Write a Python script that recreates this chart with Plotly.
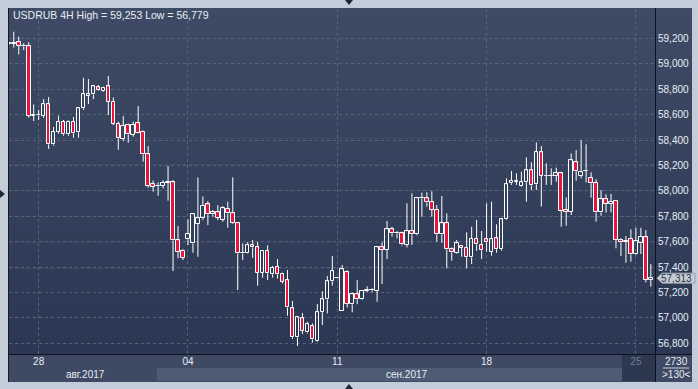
import plotly.graph_objects as go

# ---------------- data (USDRUB 4H, 130 bars) ----------------
open_ = [
    59156, 59160, 59170, 59141, 59138, 58592, 58595, 58592, 58681, 58366,
    58466, 58545, 58445, 58545, 58461, 58650, 58749, 58760, 58815, 58789,
    58823, 58702, 58529, 58408, 58518, 58440, 58532, 58461, 58287, 58051,
    58036, 58041, 58064, 58067, 57610, 57526, 57618, 57587, 57742, 57784,
    57894, 57815, 57831, 57773, 57860, 57823, 57745, 57508, 57514, 57571,
    57555, 57356, 57527, 57343, 57401, 57346, 57296, 57075, 56847, 56997,
    56886, 56936, 56821, 57049, 57146, 57288, 57314, 57057, 57359, 57107,
    57185, 57146, 57214, 57217, 57214, 57555, 57535, 57697, 57666, 57666,
    57577, 57682, 57658, 57941, 57941, 57910, 57850, 57658, 57745, 57540,
    57508, 57569, 57553, 57477, 57621, 57571, 57619, 57521, 57626, 57540,
    57776, 58060, 58075, 58041, 58067, 58162, 58052, 58304, 58117, 58120,
    58117, 58138, 57850, 57834, 58225, 58117, 58156, 58099, 58060, 57831,
    57934, 57897, 57920, 57613, 57600, 57621, 57500, 57587, 57634, 57298,
]
high = [
    59175, 59253, 59214, 59162, 59170, 58681, 58637, 58723, 58739, 58503,
    58592, 58558, 58555, 58581, 58655, 58891, 58881, 58833, 58833, 58820,
    58904, 58736, 58545, 58589, 58529, 58545, 58668, 58476, 58353, 58083,
    58067, 58085, 58196, 58085, 57723, 57542, 57776, 57820, 58106, 57957,
    57920, 57849, 57888, 57881, 57915, 58107, 57750, 57587, 57597, 57613,
    57597, 57535, 57571, 57409, 57464, 57356, 57377, 57133, 57010, 57038,
    56970, 56957, 57109, 57209, 57330, 57487, 57318, 57416, 57374, 57199,
    57298, 57220, 57249, 57233, 57561, 57595, 57763, 57718, 57684, 57679,
    57902, 57981, 57949, 57986, 57989, 57997, 57889, 57960, 57823, 57555,
    57613, 57574, 57674, 57718, 57771, 57684, 57902, 57915, 57737, 57787,
    58099, 58157, 58138, 58151, 58264, 58225, 58382, 58353, 58217, 58178,
    58183, 58151, 57949, 58296, 58322, 58401, 58367, 58146, 58091, 58007,
    57973, 57976, 57928, 57626, 57645, 57697, 57710, 57710, 57692, 57424,
]
low = [
    59150, 59128, 59075, 59109, 58576, 58550, 58558, 58576, 58330, 58356,
    58450, 58434, 58434, 58419, 58419, 58637, 58684, 58723, 58786, 58781,
    58597, 58518, 58324, 58392, 58379, 58427, 58453, 58230, 58025, 57994,
    57962, 58020, 57923, 57369, 57469, 57455, 57574, 57513, 57482, 57770,
    57731, 57797, 57770, 57757, 57710, 57739, 57220, 57456, 57508, 57474,
    57254, 57317, 57298, 57317, 57311, 57272, 57017, 56834, 56779, 56873,
    56878, 56805, 56813, 56944, 57036, 57254, 57312, 57055, 57083, 57044,
    57109, 57141, 57201, 57201, 57128, 57267, 57464, 57640, 57626, 57569,
    57555, 57574, 57650, 57797, 57876, 57797, 57600, 57592, 57390, 57451,
    57503, 57482, 57390, 57424, 57529, 57464, 57521, 57490, 57514, 57529,
    57770, 58047, 58047, 58033, 57915, 58007, 58007, 57876, 58047, 58047,
    58073, 57718, 57726, 57810, 58081, 58099, 58067, 57947, 57758, 57805,
    57829, 57831, 57548, 57487, 57435, 57443, 57495, 57503, 57280, 57246,
]
close = [
    59167, 59167, 59141, 59138, 58592, 58595, 58598, 58681, 58366, 58461,
    58545, 58445, 58545, 58453, 58650, 58760, 58760, 58823, 58791, 58812,
    58702, 58529, 58413, 58511, 58445, 58518, 58458, 58287, 58041, 58033,
    58038, 58064, 58067, 57610, 57521, 57474, 57658, 57815, 57784, 57883,
    57815, 57831, 57789, 57862, 57823, 57745, 57508, 57514, 57571, 57555,
    57356, 57527, 57351, 57395, 57343, 57285, 57083, 56847, 57004, 56897,
    56949, 56831, 57044, 57146, 57288, 57367, 57316, 57382, 57109, 57185,
    57146, 57214, 57217, 57220, 57555, 57535, 57697, 57666, 57671, 57579,
    57682, 57658, 57941, 57944, 57910, 57850, 57658, 57745, 57540, 57516,
    57587, 57553, 57477, 57621, 57579, 57532, 57595, 57619, 57540, 57776,
    58052, 58078, 58073, 58067, 58162, 58044, 58304, 58117, 58120, 58117,
    58138, 57844, 57834, 58240, 58159, 58146, 58159, 58060, 57831, 57934,
    57897, 57913, 57613, 57595, 57608, 57500, 57608, 57640, 57298, 57313,
]
day_tick_index = [6, 36, 66, 96, 126]
day_tick_labels = ["28", "04", "11", "18", "25"]
month_labels = ["авг.2017", "сен.2017"]
month_label_index = [15.5, 80]
y_ticks = [56800, 57000, 57200, 57400, 57600, 57800, 58000, 58200, 58400, 58600, 58800, 59000, 59200]
title_text = "USDRUB 4H High = 59,253 Low = 56,779"
last_price = 57313
last_label = "57,313"
bars_count_label = "2730"
visible_label = ">130<"

# ---------------- styling ----------------
W, H = 698, 389
PL, PR, PT, PB = 9, 655, 9, 354          # plot area in pixels
FONT = "Liberation Sans, Arial, sans-serif"
WHITE = "#ffffff"
RED = "#e3163e"
FRAME = "#c2cdd9"
GRID = "#56637c"

def X(px):
    return (px - PL) / (PR - PL)

def Y(py):
    return (PB - py) / (PB - PT)

n = len(open_)
idx = list(range(n))

# wicks (drawn outside the bodies)
wx, wy = [], []
for i in idx:
    top = max(open_[i], close[i])
    bot = min(open_[i], close[i])
    if high[i] > top:
        wx += [i, i, None]
        wy += [high[i], top, None]
    if low[i] < bot:
        wx += [i, i, None]
        wy += [bot, low[i], None]

up_x, up_base, up_h = [], [], []
dn_x, dn_base, dn_h = [], [], []
for i in idx:
    b = min(open_[i], close[i])
    h = max(abs(close[i] - open_[i]), 3)
    if close[i] >= open_[i]:
        up_x.append(i); up_base.append(b); up_h.append(h)
    else:
        dn_x.append(i); dn_base.append(b); dn_h.append(h)

fig = go.Figure()
fig.add_trace(go.Scatter(x=wx, y=wy, mode="lines", line=dict(color=WHITE, width=1),
                         hoverinfo="skip", showlegend=False))
fig.add_trace(go.Bar(x=up_x, y=up_h, base=up_base, width=0.72,
                     marker=dict(color="rgba(0,0,0,0)", line=dict(color=WHITE, width=1)),
                     showlegend=False))
fig.add_trace(go.Bar(x=dn_x, y=dn_h, base=dn_base, width=0.72,
                     marker=dict(color=RED, line=dict(color=WHITE, width=1)),
                     showlegend=False))

shapes = []
# dark chart background with vertical gradient
top_c = (62, 75, 101)
bot_c = (43, 55, 83)
y_top, y_bot = 8, 355
steps = 40
for k in range(steps):
    t = k / (steps - 1)
    c = tuple(round(top_c[j] + (bot_c[j] - top_c[j]) * t) for j in range(3))
    ya = y_top + (y_bot - y_top) * k / steps
    yb = y_top + (y_bot - y_top) * (k + 1) / steps + 0.6
    shapes.append(dict(type="rect", xref="paper", yref="paper", layer="below",
                       x0=X(8), x1=X(692), y0=Y(yb), y1=Y(ya),
                       fillcolor="rgb(%d,%d,%d)" % c, line=dict(width=0)))
# bottom time strip
shapes.append(dict(type="rect", xref="paper", yref="paper", layer="below",
                   x0=X(8), x1=X(692), y0=Y(382), y1=Y(355),
                   fillcolor="#3e4a63", line=dict(width=0)))
# scroll thumb
shapes.append(dict(type="rect", xref="paper", yref="paper", layer="below",
                   x0=X(157), x1=X(622), y0=Y(381), y1=Y(368),
                   fillcolor="#4e5b74", line=dict(width=0)))
# dark box for the current (incomplete) week
shapes.append(dict(type="rect", xref="paper", yref="paper", layer="below",
                   x0=X(622), x1=X(655), y0=Y(381), y1=Y(355),
                   fillcolor="#2c3850", line=dict(width=0)))
# border lines
shapes.append(dict(type="line", xref="paper", yref="paper", x0=X(8.5), x1=X(8.5),
                   y0=Y(382), y1=Y(8), line=dict(color="#141a26", width=1)))
shapes.append(dict(type="line", xref="paper", yref="paper", x0=X(655.5), x1=X(655.5),
                   y0=Y(382), y1=Y(8), line=dict(color="#0e121a", width=1)))
shapes.append(dict(type="line", xref="paper", yref="paper", x0=X(8), x1=X(692),
                   y0=Y(354.5), y1=Y(354.5), line=dict(color="#0e121a", width=1)))
shapes.append(dict(type="line", xref="paper", yref="paper", x0=X(663), x1=X(689),
                   y0=Y(368), y1=Y(368), line=dict(color="#c9d1dc", width=1)))
# last price marker
shapes.append(dict(type="path", xref="paper", yref="y", xsizemode="pixel", ysizemode="pixel",
                   xanchor=1.0, yanchor=last_price,
                   path="M 2,0 L 7,5 L 40,5 L 40,-5 L 7,-5 Z",
                   fillcolor="#c8cdd4", line=dict(color="#9aa3b0", width=1)))
# frame arrows
for (px, py, pth) in [(349, 0, "M -4,0 L 4,0 L 0,-5 Z"),
                      (349, 389, "M -4,0 L 4,0 L 0,5 Z"),
                      (0, 194, "M 0,4 L 0,-4 L 5,0 Z")]:
    shapes.append(dict(type="path", xref="paper", yref="paper", xsizemode="pixel",
                       ysizemode="pixel", xanchor=X(px), yanchor=Y(py), path=pth,
                       fillcolor="#1e2636", line=dict(width=0)))

annotations = [
    dict(text=title_text, xref="paper", yref="paper", x=X(11), y=Y(15), xanchor="left",
         yanchor="middle", showarrow=False, font=dict(family=FONT, size=10.5, color="#e8edf4")),
    dict(text=last_label, xref="paper", yref="y", x=X(676), y=last_price, xanchor="center",
         yanchor="middle", showarrow=False, font=dict(family=FONT, size=10, color="#28324a")),
    dict(text=bars_count_label, xref="paper", yref="paper", x=X(676), y=Y(361.5),
         xanchor="center", yanchor="middle", showarrow=False,
         font=dict(family=FONT, size=10, color="#e8edf4")),
    dict(text=visible_label, xref="paper", yref="paper", x=X(676), y=Y(374.5),
         xanchor="center", yanchor="middle", showarrow=False,
         font=dict(family=FONT, size=10, color="#e8edf4")),
]
for lab, xi in zip(month_labels, month_label_index):
    annotations.append(dict(text=lab, xref="x", yref="paper", x=xi, y=Y(374),
                            xanchor="center", yanchor="middle", showarrow=False,
                            font=dict(family=FONT, size=10, color="#e8edf4")))

tick_text = [t if t != "25" else '<span style="color:#6e7b92">25</span>' for t in day_tick_labels]

fig.update_layout(
    width=W, height=H,
    margin=dict(l=PL, r=W - PR, t=PT, b=H - PB, pad=0),
    paper_bgcolor=FRAME,
    plot_bgcolor="rgba(0,0,0,0)",
    barmode="overlay",
    bargap=0,
    showlegend=False,
    shapes=shapes,
    annotations=annotations,
    font=dict(family=FONT, size=10, color="#e8edf4"),
    xaxis=dict(range=[0.04, 129.84], tickvals=day_tick_index, ticktext=tick_text,
               showgrid=True, gridcolor=GRID, griddash="3px,3px", gridwidth=1,
               zeroline=False, showline=False, ticks="", tickfont=dict(size=10, color="#e8edf4"),
               fixedrange=True),
    yaxis=dict(range=[56716, 59432], side="right", tickvals=y_ticks, tickformat=",d",
               showgrid=True, gridcolor=GRID, griddash="3px,3px", gridwidth=1,
               zeroline=False, showline=False, ticks="", ticklabelstandoff=2,
               tickfont=dict(size=10, color="#e8edf4"), fixedrange=True),
)

fig.write_html("out.html", config={"displayModeBar": False},
               post_script="document.body.style.margin='0';document.body.style.background='%s';" % FRAME)
